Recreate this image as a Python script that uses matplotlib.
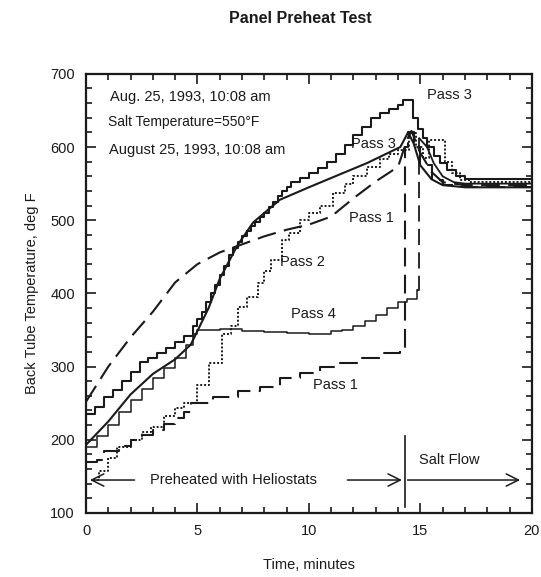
import matplotlib
matplotlib.use("Agg")
import matplotlib.pyplot as plt
from matplotlib.ticker import MultipleLocator

plt.rcParams['font.family'] = ['Liberation Sans', 'DejaVu Sans']

# ---- data ----
# Pass 3, stepped solid (top curve)
p3s_t = [0, 0.4, 0.8, 1.2, 1.6, 2.0, 2.4, 2.8, 3.2, 3.6, 4.0, 4.4, 4.8, 5.0, 5.2, 5.4, 5.6, 5.8,
         6.0, 6.2, 6.4, 6.6, 6.8, 7.0, 7.2, 7.4, 7.6, 7.8, 8.0, 8.2, 8.4, 8.6, 8.8, 9.0, 9.2,
         9.6, 10.0, 10.4, 10.8, 11.2, 11.6, 12.0, 12.4, 12.8, 13.2,
         13.6, 14.0, 14.2, 14.65, 14.9, 15.1, 15.3, 15.6, 15.9, 16.2, 16.6, 17.0, 20.0]
p3s_v = [235, 245, 258, 268, 280, 293, 306, 312, 318, 325, 333, 342, 355, 365, 375, 388, 400, 412,
         425, 438, 452, 462, 470, 478, 485, 492, 498, 504, 510, 518, 525, 533, 540, 546, 552,
         558, 565, 572, 580, 590, 603, 617, 628, 640, 646,
         652, 658, 664, 640, 625, 612, 600, 588, 578, 568, 560, 556, 556]

# Pass 3, smooth solid
p3_t = [0, 1, 2, 3, 4, 4.7, 5.5, 6.0, 6.8, 7.5, 8.7, 10.0, 11.1, 12.6, 14.1, 14.45, 14.7, 15.0,
        15.5, 16.0, 17.0, 20.0]
p3_v = [193, 225, 262, 290, 310, 330, 380, 420, 466, 497, 528, 545, 559, 578, 600, 620, 605, 575,
        556, 548, 545, 545]

# Pass 4, thin stepped solid (rise, plateau, then jump once salt flows)
p4_t = [0, 0.5, 1, 1.5, 2, 2.5, 3, 3.5, 4, 4.5, 4.8, 5.0, 6, 7, 8, 9, 10, 10.5, 11, 11.5, 12,
        12.5, 13, 13.5, 14, 14.4, 14.85]
p4_v = [190, 205, 220, 238, 255, 270, 285, 298, 312, 330, 345, 350, 351, 349, 347, 346, 345, 345,
        348, 350, 355, 362, 370, 380, 388, 392, 405]
p4_jump_t = [14.85, 14.95]
p4_jump_v = [405, 612]
p4_end_t = [14.95, 15.3, 15.6, 16.0, 16.5, 17.0, 20.0]
p4_end_v = [612, 600, 578, 560, 552, 550, 550]

# Pass 1, upper long-dashed (smooth)
p1a_t = [0, 1, 2, 3, 4, 5, 6, 7, 8, 9, 10, 11, 12, 13, 14, 14.4, 14.6, 15.0, 15.5, 16.0, 17.0, 20.0]
p1a_v = [252, 300, 340, 375, 415, 440, 456, 467, 478, 487, 494, 505, 530, 553, 573, 610, 622, 592,
         566, 552, 548, 548]

# Pass 1, lower dashed stepped
p1b_t = [0, 0.5, 0.8, 1.5, 2, 2.5, 3, 3.5, 4, 4.4, 4.7, 5.7, 6.8, 7.8, 8.7, 9.6, 10.5, 11.4,
         12.4, 13.3, 14.1, 14.3, 14.45, 14.7, 15.0, 15.5, 16.0, 17.0, 20.0]
p1b_v = [170, 172, 185, 192, 200, 207, 213, 222, 230, 238, 250, 259, 266, 272, 284, 291, 300, 305,
         312, 318, 323, 600, 620, 600, 575, 555, 548, 545, 545]

# Pass 2, dotted stepped
p2_t = [0.3, 0.6, 1.0, 1.4, 2.0, 2.5, 2.9, 3.5, 4.0, 4.4, 5.0, 5.5, 6.1, 6.5, 6.8, 7.2, 7.7, 8.0,
        8.3, 8.8, 9.1, 9.6, 10.0, 10.5, 11.1, 11.6, 12.0, 12.6, 13.2, 13.6, 14.0, 14.5, 14.8, 15.1,
        15.4, 16.1, 16.4, 16.8, 17.2, 20.0]
p2_v = [145, 158, 175, 190, 200, 210, 218, 232, 243, 250, 275, 305, 345, 355, 381, 395, 414, 430,
        446, 473, 483, 500, 510, 520, 537, 550, 560, 573, 583, 590, 596, 619, 600, 585,
        610, 580, 565, 555, 552, 552]

x_ticks = [0, 5, 10, 15, 20]
y_ticks = [100, 200, 300, 400, 500, 600, 700]

ink = '#1a1a1a'

fig = plt.figure(figsize=(5.41, 5.77), dpi=100)
ax = fig.add_axes([0.159, 0.111, 0.824, 0.761])

dash = (0, (9, 4))
ax.plot(p3s_t, p3s_v, color=ink, lw=1.5, drawstyle='steps-post')
ax.plot(p3_t, p3_v, color=ink, lw=1.5)
ax.plot(p4_t, p4_v, color=ink, lw=1.1, drawstyle='steps-post')
ax.plot(p4_jump_t, p4_jump_v, color=ink, lw=1.3, linestyle=dash, drawstyle='steps-post')
ax.plot(p4_end_t, p4_end_v, color=ink, lw=1.3)
ax.plot(p1a_t, p1a_v, color=ink, lw=1.5, linestyle=dash)
ax.plot(p1b_t, p1b_v, color=ink, lw=1.5, linestyle=dash, drawstyle='steps-post')
ax.plot(p2_t, p2_v, color=ink, lw=1.4, linestyle=(0, (1, 1)), drawstyle='steps-post')

ax.set_xlim(0, 20)
ax.set_ylim(100, 700)
ax.set_xticks(x_ticks)
ax.set_yticks(y_ticks)
ax.xaxis.set_minor_locator(MultipleLocator(1))
ax.yaxis.set_minor_locator(MultipleLocator(20))
ax.tick_params(which='both', direction='in', top=True, right=True, colors=ink, labelsize=10.5,
               width=1.2)
ax.tick_params(which='major', length=7, pad=8)
ax.tick_params(which='minor', length=4)
for s in ax.spines.values():
    s.set_linewidth(1.6)
    s.set_color(ink)

ax.set_xlabel('Time, minutes', fontsize=10.5, color=ink, labelpad=14)
ax.set_ylabel('Back Tube Temperature, deg F', fontsize=10.5, color=ink, labelpad=8)
fig.text(0.556, 0.968, 'Panel Preheat Test', ha='center', va='center', fontsize=11.5,
         fontweight='bold', color=ink)

tk = dict(color=ink, fontsize=10.5, ha='center', va='center')
ax.text(4.7, 668, 'Aug. 25, 1993, 10:08 am', **tk)
ax.text(4.4, 634, 'Salt Temperature=550°F', **dict(tk, fontsize=10))
ax.text(5.0, 596, 'August 25, 1993, 10:08 am', **tk)
ax.text(16.3, 671, 'Pass 3', **tk)
ax.text(12.9, 604, 'Pass 3', **tk)
ax.text(12.8, 503, 'Pass 1', **tk)
ax.text(9.7, 443, 'Pass 2', **tk)
ax.text(10.2, 372, 'Pass 4', **tk)
ax.text(11.2, 275, 'Pass 1', **tk)
ax.text(6.6, 145, 'Preheated with Heliostats', **tk)
ax.text(16.3, 172, 'Salt Flow', **tk)

arr = dict(arrowstyle='->', color=ink, lw=1.1, mutation_scale=22)
ax.annotate('', xy=(0.05, 145), xytext=(2.3, 145), arrowprops=arr)
ax.annotate('', xy=(14.3, 145), xytext=(11.6, 145), arrowprops=arr)
ax.annotate('', xy=(19.6, 145), xytext=(14.3, 145), arrowprops=arr)
ax.plot([14.3, 14.3], [108, 205], color=ink, lw=1.2)

fig.savefig('out.png', dpi=100)
